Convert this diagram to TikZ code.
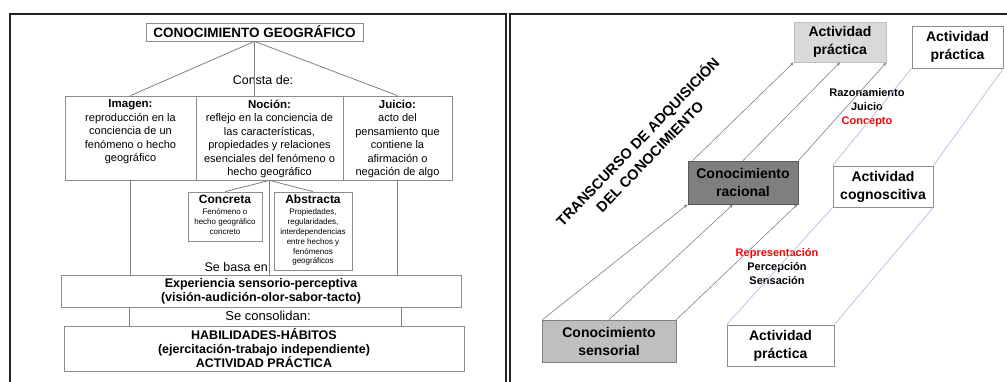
\documentclass[tikz,border=0pt]{standalone}
\usepackage{fontspec}
\setmainfont{Liberation Sans}
\usetikzlibrary{calc,arrows.meta}
\definecolor{framec}{RGB}{34,34,34}
\definecolor{linec}{RGB}{128,128,128}
\definecolor{boxc}{RGB}{140,140,140}
\definecolor{lightfill}{RGB}{217,217,217}
\definecolor{lightdraw}{RGB}{191,191,191}
\definecolor{darkfill}{RGB}{127,127,127}
\definecolor{darkdraw}{RGB}{89,89,89}
\definecolor{midfill}{RGB}{191,191,191}
\definecolor{bluec}{RGB}{180,199,231}
\definecolor{redc}{RGB}{255,0,0}
\newcommand{\fs}[2]{\fontsize{#1}{#2}\selectfont}
\begin{document}
\begin{tikzpicture}[x=1pt,y=-1pt,
  lbox/.style={draw=boxc, line width=0.8pt, inner sep=0pt, align=center},
  conn/.style={draw=linec, line width=0.8pt},
  lbl/.style={inner sep=0pt, align=center},
  rbox/.style={draw=boxc, line width=0.8pt, inner sep=0pt, align=center, font=\fs{14}{18}\bfseries},
  arr/.style={draw=linec, line width=0.6pt, -{Stealth[length=4pt,width=3pt]}},
  bl/.style={draw=bluec, line width=0.8pt}
]
\useasboundingbox (0,0) rectangle (1007,382);
% frames
\draw[framec, line width=1.5pt] (10,382) -- (10,14) -- (506,14) -- (506,382);
\draw[framec, line width=1.5pt] (510,382) -- (510,14) -- (1007,14);

% ===== left panel =====
\node[lbox, minimum width=217, minimum height=18, font=\fs{13.5}{15}\bfseries] (title) at (254.5,32) {CONOCIMIENTO GEOGRÁFICO};

\node[lbox, minimum width=131, minimum height=84] (imagen) at (130.5,138)
 {\parbox[c][82pt][t]{127pt}{\vspace*{3pt}\centering\fs{11}{13.5}\textbf{\fs{11.5}{13.5}Imagen:}\\reproducción en la\\conciencia de un\\fenómeno o hecho\\geográfico}};
\node[lbox, minimum width=147, minimum height=84] (nocion) at (269.5,138)
 {\parbox[c][82pt][t]{145pt}{\vspace*{3pt}\centering\fs{11}{13.5}\textbf{\fs{11.5}{13.5}Noción:}\\reflejo en la conciencia de\\las características,\\propiedades y relaciones\\esenciales del fenómeno o\\hecho geográfico}};
\node[lbox, minimum width=109, minimum height=84] (juicio) at (397.5,138)
 {\parbox[c][82pt][t]{105pt}{\vspace*{3pt}\centering\fs{11}{13.5}\textbf{\fs{11.5}{13.5}Juicio:}\\acto del\\pensamiento que\\contiene la\\afirmación o\\negación de algo}};

\node[lbl, font=\fs{12.5}{14}] (consta) at (263,80) {Consta de:};

\node[lbox, minimum width=74, minimum height=49] (concreta) at (225,216.5)
 {\parbox[c][47pt][t]{72pt}{\vspace*{2pt}\centering{\fs{12}{13}\bfseries Concreta\par}\vspace{1.5pt}{\fs{8}{10}Fenómeno o\\hecho geográfico\\concreto\par}}};
\node[lbox, minimum width=78, minimum height=78] (abstracta) at (313,231)
 {\parbox[c][76pt][t]{76pt}{\vspace*{2pt}\centering{\fs{12}{13}\bfseries Abstracta\par}\vspace{1.5pt}{\fs{8}{9.8}Propiedades,\\regularidades,\\interdependencias\\entre hechos y\\fenómenos\\geográficos\par}}};

\node[lbl, font=\fs{12.5}{14}] (basa) at (238,267) {Se basa en:};

\node[lbox, minimum width=400, minimum height=32, font=\fs{12.5}{14}\bfseries] (exper) at (261,291)
 {Experiencia sensorio-perceptiva\\(visión-audición-olor-sabor-tacto)};

\node[lbl, font=\fs{13}{14}] (consol) at (268,316) {Se consolidan:};

\node[lbox, minimum width=400, minimum height=45, font=\fs{12.5}{14}\bfseries] (habil) at (264,348.5)
 {HABILIDADES-HÁBITOS\\(ejercitación-trabajo independiente)\\ACTIVIDAD PRÁCTICA};

% left connectors
\draw[conn] (title.south) -- (imagen.north);
\draw[conn] (title.south) -- (title.south |- nocion.north);
\draw[conn] (title.south) -- (juicio.north);
\draw[conn] (nocion.south) -- (concreta.north);
\draw[conn] (nocion.south) -- (abstracta.north);
\draw[conn] (nocion.south) -- (nocion.south |- exper.north);
\draw[conn] (imagen.south) -- (imagen.south |- exper.north);
\draw[conn] (juicio.south) -- (juicio.south |- exper.north);
\draw[conn] ($(exper.south west)+(69,0)$) -- ($(habil.north west)+(66,0)$);
\draw[conn] ($(exper.south west)+(341,0)$) -- ($(habil.north west)+(338,0)$);

% ===== right panel =====
\node[rbox, fill=lightfill, draw=lightdraw, minimum width=92, minimum height=40] (ap1) at (840,42) {Actividad\\práctica};
\node[rbox, minimum width=91, minimum height=42] (ap2) at (957.5,47) {Actividad\\práctica};
\node[rbox, fill=darkfill, draw=darkdraw, minimum width=110, minimum height=43] (racional) at (743,182.5) {Conocimiento\\racional};
\node[rbox, minimum width=100, minimum height=41] (cognos) at (883,186.5) {Actividad\\cognoscitiva};
\node[rbox, fill=midfill, draw=linec, minimum width=134, minimum height=42] (sensorial) at (609,341) {Conocimiento\\sensorial};
\node[rbox, minimum width=107, minimum height=41] (ap3) at (780.5,345.5) {Actividad\\práctica};

\node[lbl, font=\fs{11}{14}\bfseries] (razon) at (867,108) {Razonamiento\\Juicio\\\textcolor{redc}{Concepto}};
\node[lbl, font=\fs{11}{14}\bfseries] (repre) at (777,267) {\textcolor{redc}{Representación}\\Percepción\\Sensación};

\node[lbl, rotate=46, font=\fs{14.5}{16}\bfseries] (trans1) at (638,142) {TRANSCURSO DE ADQUISICIÓN};
\node[lbl, rotate=46, font=\fs{14.5}{16}\bfseries] (trans2) at (650,157) {DEL CONOCIMIENTO};

% arrows
\draw[arr] ($(racional.north west)+(5,0)$) -- (ap1.south west);
\draw[arr] (racional.north) -- (ap1.south);
\draw[arr] (racional.north east) -- (ap1.south east);
\draw[arr] ($(sensorial.north west)+(1,0)$) -- (racional.south west);
\draw[arr] (sensorial.north) -- ($(racional.south)+(-10,0)$);
\draw[arr] (sensorial.north east) -- ($(racional.south east)+(-1,0)$);

% blue lines
\draw[bl] (ap3.north west) -- (cognos.south west);
\draw[bl] (ap3.north east) -- (cognos.south east);
\draw[bl] (cognos.north west) -- (ap2.south west);
\draw[bl] (cognos.north east) -- (ap2.south east);
\end{tikzpicture}
\end{document}
